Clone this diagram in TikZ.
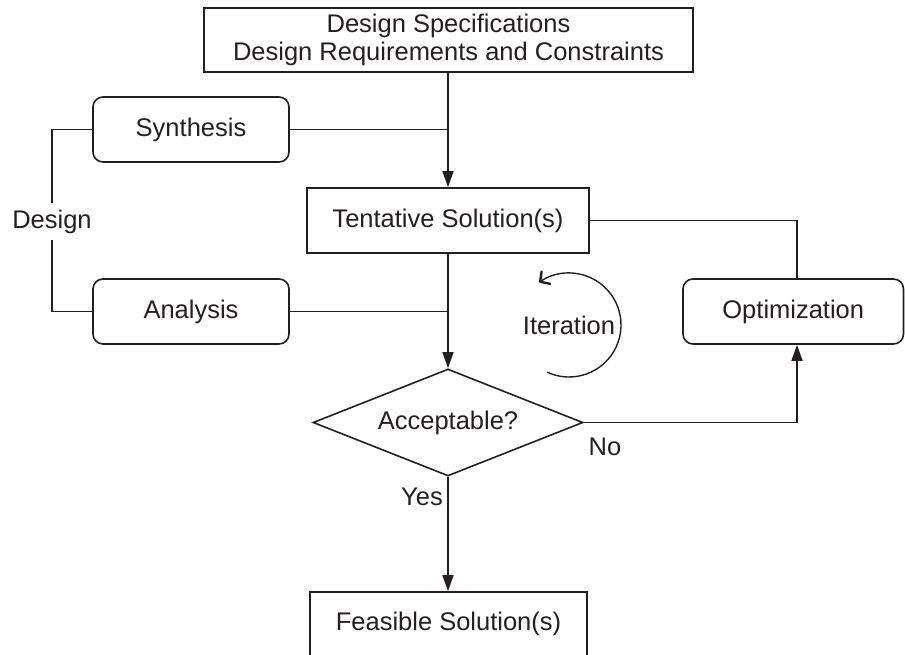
\documentclass[tikz,border=0pt]{standalone}
\usepackage{fontspec}
\setmainfont{Liberation Sans}
\usetikzlibrary{arrows.meta,shapes.geometric}
\definecolor{ink}{RGB}{35,31,32}
\begin{document}
\begin{tikzpicture}[x=1pt,y=-1pt,
  every node/.style={font=\fontsize{25.5}{28}\selectfont, text=ink, inner sep=0pt},
  plainbox/.style={draw=ink, line width=1.6pt, rectangle, align=center},
  roundbox/.style={plainbox, rounded corners=10pt},
  decision/.style={draw=ink, line width=1.6pt, diamond, shape aspect=2.52,
                   minimum width=270pt, minimum height=107pt},
  link/.style={draw=ink, line width=1.6pt},
  flowarrow/.style={link, -{Triangle[length=16pt,width=11pt]}},
  turnarrow/.style={draw=ink, line width=1.4pt,
                    -{Straight Barb[length=7pt,width=15pt,line width=2.4pt 0,round]}}
]
\useasboundingbox (0,0) rectangle (905,655);

% boxes
\node[plainbox, minimum width=489pt, minimum height=64pt] (spec) at (448.5,40)
  {Design Specifications\\Design Requirements and Constraints};
\node[roundbox, minimum width=196pt, minimum height=65pt] (synth) at (191,129.5) {Synthesis};
\node[plainbox, minimum width=282pt, minimum height=65pt] (tent) at (448,220.5) {Tentative Solution(s)};
\node[roundbox, minimum width=196pt, minimum height=65pt] (anal) at (191,311.5) {Analysis};
\node[roundbox, minimum width=220.5pt, minimum height=65pt] (opt) at (793.25,311.5) {Optimization};
\node[decision] (acc) at (448,422.5) {Acceptable?};
\node[plainbox, minimum width=277pt, minimum height=70pt, text height=20pt, text depth=14pt]
  (feas) at (448.5,627) {Feasible Solution(s)};

% free labels
\node[minimum height=37pt] (design) at (52,221.5) {Design};
\node (iter) at (569,325) {Iteration};
\node (no) at (605,447) {No};
\node (yes) at (422,497) {Yes};
\coordinate (optport) at (797,311.5);

% main flow
\draw[flowarrow] (spec.south -| tent.north) -- (tent.north);
\draw[link] (synth.east) -- (synth.east -| tent.north);
\draw[link] (anal.east) -- (anal.east -| tent.north);
\draw[flowarrow] (tent.south) -- (acc.north);
\draw[flowarrow] (acc.south) -- (acc.south |- feas.north);

% optimization loop
\draw[link] (tent.east) -| (optport |- opt.north);
\draw[flowarrow] (acc.east) -| (optport |- opt.south);

% design bracket
\draw[link] (synth.west) -| (design.north);
\draw[link] (anal.west) -| (design.south);

% iteration arrow
\draw[turnarrow] ([shift={(-115:52pt)}]iter.center) arc[start angle=-115, end angle=125, radius=52pt];
\end{tikzpicture}
\end{document}
